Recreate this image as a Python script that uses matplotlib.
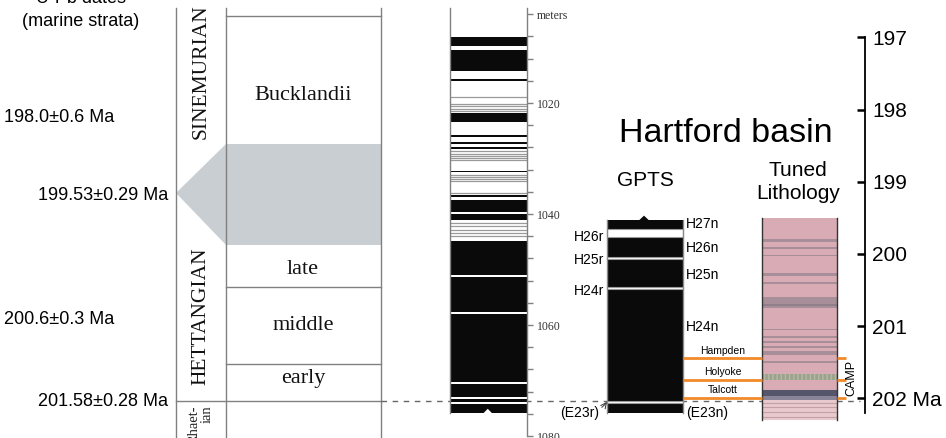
import matplotlib.pyplot as plt
from matplotlib.patches import Polygon

# ---------------- data ----------------
# left panel: marine ammonite zonation (schematic, not to scale; units = position down the panel)
zone_names = ['Bucklandii', 'late', 'middle', 'early']
zone_label_pos = [95, 269, 325, 378]
zone_lines = [15.7, 287, 364]          # drawn boundaries
shade_top, shade_apex, shade_base = 144, 193, 245   # grey band (199.53 Ma)
stage_names = ['SINEMURIAN', 'HETTANGIAN']
stage_pos = [72, 316]
base_line = 401                        # 201.58 Ma boundary
date_labels = ['198.0±0.6 Ma', '199.53±0.29 Ma', '200.6±0.3 Ma', '201.58±0.28 Ma']
date_pos = [117, 196, 319, 401]
date_left = [True, False, True, False]

# middle panel: magnetostratigraphy in meters
sect_top, sect_base = 1008.1, 1075.9
black_m = [(1008.1, 1009.7), (1010.5, 1014.2), (1015.7, 1016.1), (1021.8, 1023.4),
           (1025.8, 1026.2), (1027.1, 1027.4), (1028.0, 1028.3), (1032.2, 1032.5),
           (1036.6, 1036.9), (1037.5, 1039.6), (1040.0, 1041.1), (1044.9, 1051.0),
           (1051.4, 1057.6), (1058.0, 1070.3), (1070.6, 1073.0), (1073.3, 1073.9),
           (1074.2, 1075.9)]
gray_m = [1018.9, 1020.1, 1020.6, 1021.0, 1021.4, 1028.7, 1029.1, 1029.5, 1029.9, 1030.3,
          1032.9, 1033.3, 1033.7, 1034.1, 1036.2, 1041.6, 1042.2, 1042.8, 1043.4, 1044.0]
m_ticks = list(range(1004, 1081, 4))
m_labels = {1004: 'meters', 1020: '1020', 1040: '1040', 1060: '1060', 1080: '1080'}

# Hartford basin GPTS (Ma)
gpts_top, gpts_base = 199.53, 202.2
gpts_rev = [(199.66, 199.77), (200.04, 200.07), (200.46, 200.49), (202.04, 202.06)]
chron_right = ['H27n', 'H26n', 'H25n', 'H24n', '(E23n)']
chron_right_age = [199.59, 199.92, 200.29, 201.01, 202.20]
chron_left = ['H26r', 'H25r', 'H24r']
chron_left_age = [199.77, 200.09, 200.51]
e23r_age = 202.20

# CAMP basalts
flow_names = ['Hampden', 'Holyoke', 'Talcott']
flow_age = [201.44, 201.74, 201.99]

# tuned lithology (Ma)
lith_top, lith_mid, lith_base = 199.50, 202.0, 202.3
lith_gray = [(199.80, 199.83), (199.91, 199.93), (200.01, 200.03), (200.26, 200.30),
             (200.39, 200.41), (200.60, 200.75), (200.69, 200.72), (201.04, 201.06),
             (201.14, 201.16), (201.21, 201.23), (201.28, 201.30), (201.35, 201.40),
             (201.49, 201.51)]
lith_green = (201.66, 201.75)
lith_dark = (201.88, 201.97)
lith_faint = [202.06, 202.12, 202.19, 202.26]

age_ticks = [197, 198, 199, 200, 201, 202]
age_labels = ['197', '198', '199', '200', '201', '202 Ma']

# ---------------- figure ----------------
W, H = 946, 438
fig = plt.figure(figsize=(W / 100, H / 100), dpi=100)
sans = 'Liberation Sans'
serif = 'Liberation Serif'
line_c = '#808080'
orange = '#f28a2a'

# schematic panel + labels (figure pixel units)
ax_s = fig.add_axes([0, 0, 1, 1])
ax_s.set_xlim(0, W)
ax_s.set_ylim(H, 0)
ax_s.axis('off')

ax_s.add_patch(Polygon([(176, shade_apex), (226, shade_top), (381, shade_top),
                        (381, shade_base), (226, shade_base)],
                       closed=True, facecolor='#c9ced2', edgecolor='none'))
for x in [176, 226, 381]:
    ax_s.plot([x, x], [8, H], color=line_c, lw=1)
for y in zone_lines:
    ax_s.plot([226, 381], [y, y], color=line_c, lw=1)
ax_s.plot([176, 381], [base_line, base_line], color=line_c, lw=1)
ax_s.plot([381, 860], [base_line, base_line], color='#666666', lw=1, ls=(0, (4, 4)))

for name, y in zip(zone_names, zone_label_pos):
    ax_s.text(303, y, name, ha='center', va='center', fontsize=16, family=serif, color='#111111')
for name, y in zip(stage_names, stage_pos):
    ax_s.text(201, y, name, ha='center', va='center', rotation=90, fontsize=15.5,
              family=serif, color='#111111')
ax_s.text(201, 405, 'Rhaet-\nian', ha='center', va='top', rotation=90, fontsize=10.5,
          family=serif, color='#222222', multialignment='right', linespacing=1.0)

for lab, y, left in zip(date_labels, date_pos, date_left):
    if left:
        ax_s.text(4, y, lab, ha='left', va='center', fontsize=13, family=sans)
    else:
        ax_s.text(168, y, lab, ha='right', va='center', fontsize=13, family=sans)
ax_s.text(81, 3, 'U-Pb dates', ha='center', va='baseline', fontsize=13, family=sans)
ax_s.text(81, 22, '(marine strata)', ha='center', va='center', fontsize=13, family=sans)

ax_s.text(726, 133, 'Hartford basin', ha='center', va='center', fontsize=24.5, family=sans)
ax_s.text(645, 180, 'GPTS', ha='center', va='center', fontsize=15, family=sans)
ax_s.text(798, 182, 'Tuned\nLithology', ha='center', va='center', fontsize=15,
          family=sans, linespacing=1.3)

# meters column
ax_m = fig.add_axes([450 / W, 0, 77 / W, 1])
ax_m.set_facecolor('none')
ax_m.set_xlim(0, 1)
ax_m.set_ylim(1020 + 335 / 5.55, 1020 - 103 / 5.55)
ax_m.axhspan(1002.9, sect_base, color='white', zorder=0)
for top, bot in black_m:
    ax_m.axhspan(top, bot, color='#0a0a0a', lw=0)
for y in gray_m:
    ax_m.axhline(y, color='#9a9a9a', lw=0.9)
ax_m.add_patch(Polygon([(0.43, sect_base + 0.05), (0.49, sect_base - 0.8), (0.55, sect_base + 0.05)],
                       closed=True, facecolor='white', edgecolor='none'))
for s in ['top', 'bottom']:
    ax_m.spines[s].set_visible(False)
ax_m.spines['left'].set_bounds(1002.9, sect_base)
ax_m.spines['right'].set_bounds(1002.9, 1080)
for s in ['left', 'right']:
    ax_m.spines[s].set_color(line_c)
    ax_m.spines[s].set_linewidth(1)
ax_m.set_xticks([])
ax_m.yaxis.tick_right()
ax_m.set_yticks(m_ticks)
ax_m.set_yticklabels([m_labels.get(t, '') for t in m_ticks], family=serif, fontsize=8.5,
                     color='#333333')
ax_m.tick_params(axis='y', direction='out', length=4, width=1, color=line_c, pad=3)

# age axis + GPTS + lithology
ax = fig.add_axes([0, 0, 865 / W, 1])
ax.set_facecolor('none')
ax.set_xlim(0, 865)
ax.set_ylim(197 + (H - 37.3) / 72.2, 197 - 37.3 / 72.2)
for s in ['top', 'bottom', 'left']:
    ax.spines[s].set_visible(False)
ax.spines['right'].set_bounds(197, 202.2)
ax.spines['right'].set_linewidth(1.3)
ax.set_xticks([])
ax.yaxis.tick_right()
ax.set_yticks(age_ticks)
ax.set_yticklabels(age_labels, family=sans, fontsize=15)
ax.tick_params(axis='y', direction='in', length=6, width=1.8, pad=5)

# GPTS column
gx0, gx1 = 607, 683
ax.fill_between([gx0, gx1], gpts_top, gpts_base, color='#0a0a0a', lw=0)
for top, bot in gpts_rev:
    ax.fill_between([gx0, gx1], top, bot, facecolor='white', edgecolor='#9a9a9a', lw=0.8)
ax.plot([gx0, gx0], [gpts_top, gpts_base], color='#8a8a8a', lw=1)
ax.plot([gx1, gx1], [gpts_top, gpts_base], color='#8a8a8a', lw=1)
ax.add_patch(Polygon([(639, gpts_top + 0.005), (644, gpts_top - 0.06), (649, gpts_top + 0.005)],
                     closed=True, facecolor='#0a0a0a', edgecolor='none'))
for lab, a in zip(chron_right, chron_right_age):
    ax.text(686, a, lab, ha='left', va='center', fontsize=10, family=sans)
for lab, a in zip(chron_left, chron_left_age):
    ax.text(604, a, lab, ha='right', va='center', fontsize=10, family=sans)
ax.annotate('(E23r)', xy=(gx0, gpts_rev[-1][0] + 0.01), xytext=(599, e23r_age),
            ha='right', va='center', fontsize=10, family=sans,
            arrowprops=dict(arrowstyle='->', lw=0.7, color='#333333',
                            connectionstyle='arc3,rad=0.3', shrinkA=0, shrinkB=0))

# lithology column
lx0, lx1 = 762, 837
ax.fill_between([lx0, lx1], lith_top, lith_mid, color='#d9abb5', lw=0)
ax.fill_between([lx0, lx1], lith_mid, lith_base, color='#e7c9ce', lw=0)
for top, bot in lith_gray:
    ax.fill_between([lx0, lx1], top, bot, color='#77727e', alpha=0.5, lw=0)
ax.fill_between([lx0, lx1], *lith_green, color='#9da28c', lw=0, hatch='||||', edgecolor='#b5b8a5')
ax.fill_between([lx0, lx1], *lith_dark, color='#55556b', lw=0)
ax.fill_between([lx0, lx1], lith_dark[1], lith_mid + 0.02, color='#8a8499', lw=0)
for a in lith_faint:
    ax.plot([lx0, lx1], [a, a], color='#c4a0a6', lw=0.8)
ax.plot([lx0, lx0], [lith_top, lith_base], color='#333333', lw=1)
ax.plot([lx1, lx1], [lith_top, lith_base], color='#333333', lw=1)

# basalt flows
ax.hlines(flow_age, gx1, lx0, color=orange, lw=2)
ax.hlines(flow_age, lx1, 846, color=orange, lw=2)
for name, a in zip(flow_names, flow_age):
    ax.text((gx1 + lx0) / 2, a - 0.03, name, ha='center', va='bottom', fontsize=7.5, family=sans)
ax.text(851, 201.72, 'CAMP', ha='center', va='center', rotation=90, fontsize=9, family=sans)

fig.savefig('out.png', dpi=100)
